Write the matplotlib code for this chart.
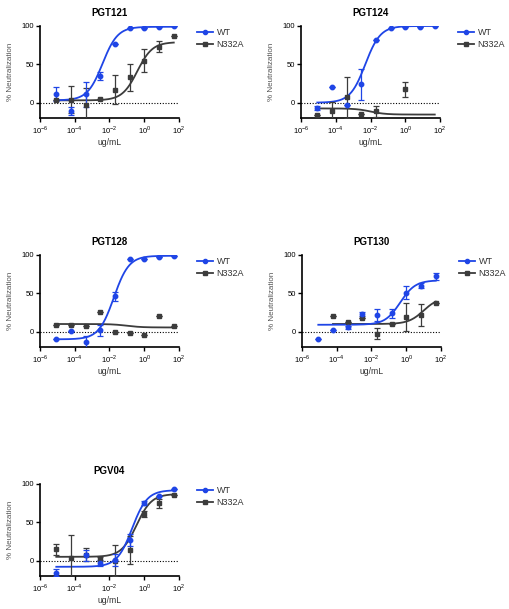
import numpy as np
import matplotlib.pyplot as plt

plt.rcParams['font.family'] = ['Liberation Sans', 'DejaVu Sans']
plt.rcParams['mathtext.fontset'] = 'custom'
plt.rcParams['mathtext.rm'] = 'Liberation Sans'

# concentrations (ug/mL), 7-fold dilution series
conc = [8.67e-6, 6.07e-5, 4.25e-4, 2.97e-3, 0.0208, 0.146, 1.02, 7.14, 50.0]

titles = ['PGT121', 'PGT124', 'PGT128', 'PGT130', 'PGV04']

# % neutralization (None = no point drawn)
wt_y = [
    [11, -11, 11, 35, 77, 98, 97, 99, 100],
    [-7, 21, -3, 24, 82, 97, 98.5, 99, 100],
    [-9, 1.3, -14, 1.7, 46, 95, 95, 98, 98.5],
    [-9, 2.6, 6, 23, 21.5, 24, 51, 60, 72],
    [-15.5, None, 7, -3.5, 1.3, 27, 75, 84, 93],
]
wt_err = [
    [9, 5, 16, 5, 0, 0, 0, 0, 0],
    [3, 0, 0, 20, 0, 0, 0, 0, 0],
    [0, 0, 8, 7, 6, 0, 0, 0, 0],
    [0, 0, 2, 3, 8, 6, 9, 3, 4],
    [5, 0, 7, 4, 8, 8, 3, 0, 0],
]
mut_y = [
    [3, 4, -3, 5, 17, 33, 55, 73, 87],
    [-16.5, -10.5, 7, -14.5, -11.5, None, 17.5, None, None],
    [8.5, 8.5, 7, 26, 0, -1.5, -4.3, 20, 8],
    [None, 20, 13, 18, -2.5, 9.5, 19, 21.5, 38],
    [15, 3, 8, 2, 0, 14, 61, 75, 86],
]
mut_err = [
    [0, 18, 22, 0, 19, 18, 15, 7, 0],
    [0, 11, 27, 0, 7.5, 0, 10, 0, 0],
    [0, 0, 0, 0, 0, 0, 0, 0, 0],
    [0, 0, 0, 0, 7, 0, 18, 14, 0],
    [7, 30, 8, 3, 20, 18, 4, 6, 0],
]

# fitted 4PL curves: bottom, top, logEC50, hill
wt_fit = [[3, 99, -2.4, 1.0], [0, 100, -2.3, 1.0], [-10, 99, -1.75, 1.0],
          [9, 67, -0.35, 1.0], [-8, 92, -0.7, 1.0]]
mut_fit = [[3, 79, -0.4, 1.0], [-7.5, -15.5, -2.0, 1.0], [10, 5.5, -1.0, 1.0],
           [10, 45, 1.0, 1.0], [5, 87, -0.45, 1.0]]
mut_start = [0, 0, 0, 1, 0]

blue = '#1f45e6'
gray = '#3c3c3c'

fig = plt.figure(figsize=(5.1, 6.09), dpi=100)
W, H = 510, 609
lefts = [40, 301, 40, 302, 40]
tops = [26, 26, 255, 255, 484]


def fourpl(lx, b, t, ec, h):
    return b + (t - b) / (1 + 10 ** ((ec - lx) * h))


for i in range(5):
    l, t = lefts[i], tops[i]
    w = 139
    h = 92
    ax = fig.add_axes([l / W, 1 - (t + h) / H, w / W, h / H])
    ax.set_xscale('log')
    ax.set_xlim(1e-6, 1e2)
    ax.set_ylim(-20, 100)
    ax.axhline(0, color='black', ls=(0, (1, 1.5)), lw=0.8)

    for ys, es, fit, col, mk, start, lab in [
        (mut_y[i], mut_err[i], mut_fit[i], gray, 's', mut_start[i], 'N332A'),
        (wt_y[i], wt_err[i], wt_fit[i], blue, 'o', 0, 'WT'),
    ]:
        xs = [c for c, y in zip(conc, ys) if y is not None]
        yv = [y for y in ys if y is not None]
        ev = [e for e, y in zip(es, ys) if y is not None]
        ax.errorbar(xs, yv, yerr=ev, fmt=mk, color=col, ms=3.2, capsize=2,
                    elinewidth=0.9, capthick=0.9, clip_on=True, zorder=3)
        lx = np.linspace(np.log10(conc[start]), np.log10(conc[-1]), 200)
        ax.plot(10 ** lx, fourpl(lx, *fit), color=col, lw=1.3, zorder=2)

    h_wt, = ax.plot([], [], color=blue, marker='o', ms=3, lw=1.3)
    h_mut, = ax.plot([], [], color=gray, marker='s', ms=3, lw=1.3)
    ax.legend([h_wt, h_mut], ['WT', 'N332A'], loc='upper left',
              bbox_to_anchor=(1.07, 1.07), frameon=False, fontsize=6.5,
              handlelength=1.8, handletextpad=0.4, labelspacing=0.35,
              labelcolor='#333333')

    ax.set_xticks([1e-6, 1e-4, 1e-2, 1e0, 1e2])
    ax.set_xticklabels([r'$10^{-6}$', r'$10^{-4}$', r'$10^{-2}$', r'$10^{0}$', r'$10^{2}$'])
    ax.minorticks_off()
    ax.set_yticks([0, 50, 100])
    ax.tick_params(labelsize=5.5, length=3, width=1, pad=1.5, colors='black')
    for s in ['top', 'right']:
        ax.spines[s].set_visible(False)
    for s in ['left', 'bottom']:
        ax.spines[s].set_linewidth(1.2)
    ax.set_title(titles[i], fontsize=7, fontweight='bold', pad=7)
    ax.set_xlabel('ug/mL', fontsize=6.2, color='#333333', labelpad=1.5)
    ax.set_ylabel('% Neutralization', fontsize=5.8, color='#555555')
    ax.yaxis.set_label_coords(-0.19, 0.5)

fig.savefig('out.png', dpi=100)
